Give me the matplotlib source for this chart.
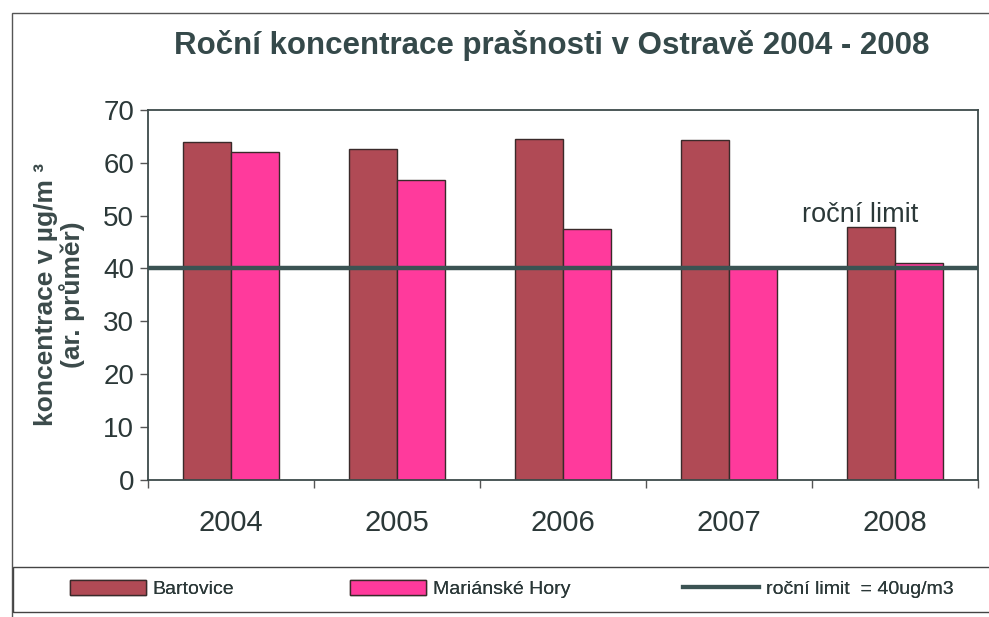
import matplotlib
matplotlib.use("Agg")
import matplotlib.pyplot as plt
from matplotlib.patches import Patch, Rectangle
from matplotlib.lines import Line2D
import numpy as np

# data
years = ["2004", "2005", "2006", "2007", "2008"]
bartovice = [64, 62.5, 64.5, 64.3, 47.8]
marianske_hory = [62, 56.7, 47.4, 40.1, 41.0]
limit = 40

col_b = "#B04A55"
col_m = "#FF3A9C"
col_line = "#3B5353"
txt = "#2B3838"

plt.rcParams['font.family'] = ['Liberation Sans', 'DejaVu Sans']

fig = plt.figure(figsize=(9.89, 6.17), dpi=100)
ax = fig.add_axes([0.1497, 0.222, 0.8393, 0.600])

x = np.arange(len(years))
w = 0.29
ax.bar(x - w / 2, bartovice, w, color=col_b, edgecolor="#3a2a2a", linewidth=1.0, zorder=2)
ax.bar(x + w / 2, marianske_hory, w, color=col_m, edgecolor="#3a2a2a", linewidth=1.0, zorder=2)
ax.axhline(limit, color=col_line, lw=3.2, zorder=3)

ax.set_xlim(-0.5, len(years) - 0.5)
ax.set_ylim(0, 70)
ax.set_yticks(range(0, 71, 10))
ax.tick_params(axis='y', labelsize=20, length=6, width=1, colors="#555", labelcolor=txt, pad=4)

# ticks between categories, labels in the middle
ax.set_xticks(np.arange(-0.5, len(years), 1.0))
ax.set_xticklabels([])
ax.set_xticks(x, minor=True)
ax.set_xticklabels(years, minor=True)
ax.tick_params(axis='x', which='major', length=6, width=1, colors="#555")
ax.tick_params(axis='x', which='minor', length=0, labelsize=21, labelcolor=txt, pad=21)

for s in ax.spines.values():
    s.set_color("#3d4a4a")
    s.set_linewidth(1.3)

ax.text(3.79, 47.6, "roční limit", fontsize=19.5, color=txt, ha='center', va='bottom', zorder=4)

ax.set_ylabel("koncentrace v µg/m ³\n(ar. průměr)", fontsize=19, fontweight='bold',
              color="#3B4A4A", labelpad=13, linespacing=1.05)

fig.text(0.558, 0.927, "Roční koncentrace prašnosti v Ostravě 2004 - 2008",
         fontsize=22.5, fontweight='bold', color="#35494A", ha='center', va='center')

# outer chart border
fig.add_artist(Rectangle((0.012, -0.05), 1.0, 1 - 13 / 617 + 0.05, transform=fig.transFigure,
                         fill=False, edgecolor="#555", lw=1.0))

# legend box along the bottom
fig.add_artist(Rectangle((0.013, 1 - 612 / 617), 1.0, 45 / 617, transform=fig.transFigure,
                         fill=False, edgecolor="#444", lw=1.0))

handles = [Patch(facecolor=col_b, edgecolor="#3a2a2a", label="Bartovice"),
           Patch(facecolor=col_m, edgecolor="#3a2a2a", label="Mariánské Hory"),
           Line2D([0], [0], color=col_line, lw=3, label="roční limit  = 40ug/m3")]
leg_x = [70 / 989, 350 / 989, 683 / 989]
for h, lx in zip(handles, leg_x):
    lg = fig.legend(handles=[h], loc='center left', bbox_to_anchor=(lx, 1 - 589 / 617),
                    frameon=False, prop={'size': 14}, handlelength=3.9, handleheight=0.85,
                    handletextpad=0.35, borderaxespad=0, borderpad=0)
    for t in lg.get_texts():
        t.set_color(txt)
    fig.add_artist(lg)

fig.savefig("out.png", dpi=100)
